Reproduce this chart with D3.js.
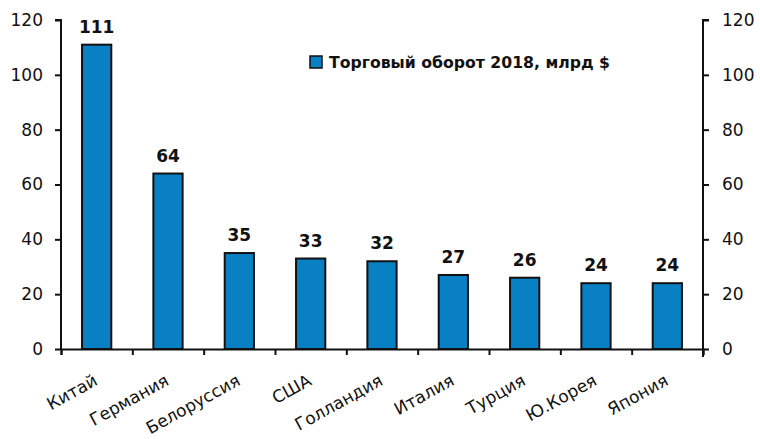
<!DOCTYPE html>
<html>
<head>
<meta charset="utf-8">
<script src="https://cdn.jsdelivr.net/npm/d3@7"></script>
<style>
  body { margin: 0; background: #fff; }
  svg text { font-family: "DejaVu Sans", Verdana, sans-serif; fill: #111; }
</style>
</head>
<body>
<svg id="chart" width="760" height="439"></svg>
<script>
"use strict";

var countries = ['Китай', 'Германия', 'Белоруссия', 'США', 'Голландия', 'Италия', 'Турция', 'Ю.Корея', 'Япония'];
var turnover = [111, 64, 35, 33, 32, 27, 26, 24, 24];
var y_ticks = [0, 20, 40, 60, 80, 100, 120];
var legend_label = 'Торговый оборот 2018, млрд $';

var plot_left = 61, plot_right = 703, plot_top = 20, plot_bottom = 349;
var bar_color = '#0a80c4';

var svg = d3.select('#chart');

var x = d3.scaleBand().domain(countries).range([plot_left, plot_right]).paddingInner(0).paddingOuter(0);
var y = d3.scaleLinear().domain([0, 120]).range([plot_bottom, plot_top]);

var bar_w = x.bandwidth() * 0.41;

// bars
svg.append('g').selectAll('rect')
    .data(countries)
    .enter().append('rect')
    .attr('x', function(d) { return x(d) + x.bandwidth() / 2 - bar_w / 2; })
    .attr('y', function(d, i) { return y(turnover[i]); })
    .attr('width', bar_w)
    .attr('height', function(d, i) { return y(0) - y(turnover[i]); })
    .attr('fill', bar_color)
    .attr('stroke', '#111')
    .attr('stroke-width', 2);

// value labels
svg.append('g').selectAll('text')
    .data(countries)
    .enter().append('text')
    .attr('x', function(d) { return x(d) + x.bandwidth() / 2; })
    .attr('y', function(d, i) { return y(turnover[i]) - 12; })
    .attr('text-anchor', 'middle')
    .style('font-size', '17px')
    .style('font-weight', 'bold')
    .text(function(d, i) { return turnover[i]; });

// left axis
var axis_left = svg.append('g')
    .attr('transform', 'translate(' + plot_left + ',0)')
    .call(d3.axisLeft(y).tickValues(y_ticks).tickSize(6).tickPadding(12));

// right axis
var axis_right = svg.append('g')
    .attr('transform', 'translate(' + plot_right + ',0)')
    .call(d3.axisRight(y).tickValues(y_ticks).tickSize(6).tickPadding(13));

// bottom axis: ticks at category boundaries
var x_bounds = d3.scaleLinear().domain([0, countries.length]).range([plot_left, plot_right]);
var axis_bottom = svg.append('g')
    .attr('transform', 'translate(0,' + plot_bottom + ')')
    .call(d3.axisBottom(x_bounds).tickValues(d3.range(0, countries.length + 1)).tickSize(6).tickFormat(''));

[axis_left, axis_right, axis_bottom].forEach(function(a) {
    a.select('.domain').attr('stroke', '#111').attr('stroke-width', 2);
    a.selectAll('.tick line').attr('stroke', '#111').attr('stroke-width', 2);
    a.selectAll('.tick text')
        .style('font-family', '"DejaVu Sans", Verdana, sans-serif')
        .style('font-size', '17px')
        .attr('fill', '#111');
});
axis_left.select('.domain').attr('d', 'M-6,' + plot_top + 'H0V' + plot_bottom);
axis_right.select('.domain').attr('d', 'M6,' + plot_top + 'H0V' + (plot_bottom + 8));

// category labels
svg.append('g').selectAll('text')
    .data(countries)
    .enter().append('text')
    .attr('transform', function(d) {
        return 'translate(' + (x(d) + x.bandwidth() / 2 + 2) + ',' + (plot_bottom + 35) + ') rotate(-29)';
    })
    .attr('text-anchor', 'end')
    .style('font-size', '17px')
    .text(function(d) { return d; });

// legend
var legend = svg.append('g').attr('transform', 'translate(310,56)');
legend.append('rect')
    .attr('width', 12).attr('height', 12)
    .attr('fill', bar_color)
    .attr('stroke', '#111').attr('stroke-width', 1.5);
legend.append('text')
    .attr('x', 19).attr('y', 12)
    .style('font-size', '15.7px')
    .style('font-weight', 'bold')
    .text(legend_label);
</script>
</body>
</html>
